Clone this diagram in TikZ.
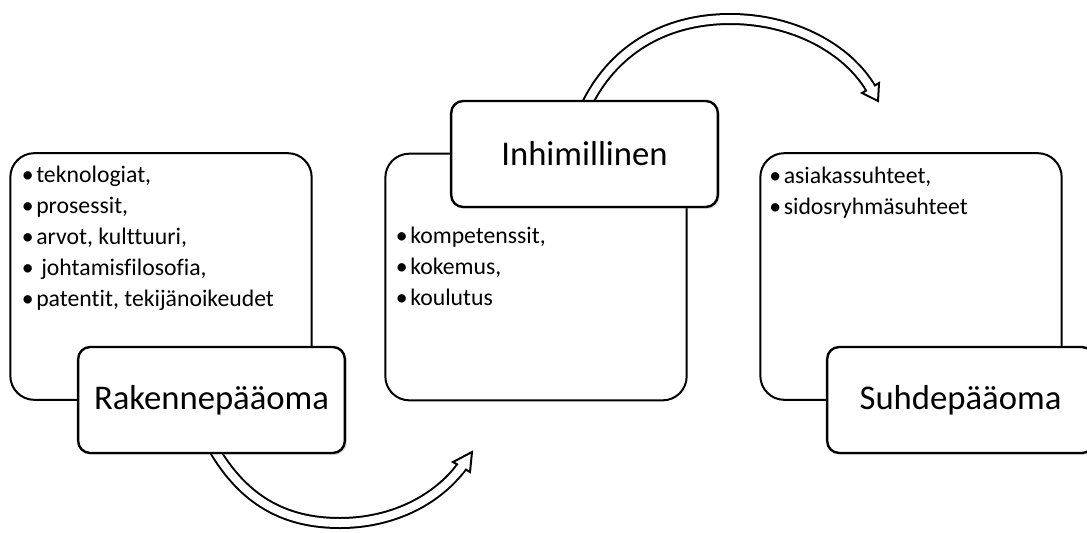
\documentclass[tikz,border=0pt]{standalone}
\usepackage{fontspec}
\setmainfont{Carlito}[Ligatures={NoCommon,NoContextual}]
\usetikzlibrary{shadows}
\pgfdeclarelayer{bg}
\pgfsetlayers{bg,main}
\newcommand\blt{\makebox[9pt]{•}\hspace{1.9pt}}
\begin{document}
\begin{tikzpicture}[x=0.75pt,y=-0.75pt,
  bigbox/.style={draw=black, line width=1.5pt, rounded corners=18pt, fill=white, inner sep=0pt,
    minimum width=226pt, minimum height=185pt},
  titlebox/.style={draw=black, line width=1.8pt, rounded corners=9pt, fill=white, inner sep=0pt,
    minimum width=200pt, minimum height=79.5pt, font=\fontsize{26}{30}\selectfont,
    drop shadow={opacity=0.25, shadow xshift=1.5pt, shadow yshift=-1.5pt}},
  item/.style={anchor=base west, inner sep=0pt, font=\fontsize{17.8}{23}\selectfont},
  flow/.style={draw=black, line width=1.5pt, double=white, double distance=6pt},
  head/.style={draw=black, fill=white, line width=1.5pt, line join=miter},
  patch/.style={draw=white, line width=6pt}
]
\useasboundingbox (0,0) rectangle (1087,532);

% title boxes
\node[titlebox] (r1) at (211.5,400) {Rakennepääoma};
\node[titlebox] (i1) at (584.5,154) {Inhimillinen};
\node[titlebox] (s1) at (960.5,400) {Suhdepääoma};

\coordinate (h1) at (461.5,467);
\coordinate (h2) at (870.5,88);

\begin{pgfonlayer}{bg}
  \node[bigbox] (b1) at (161,276.5) {};
  \node[bigbox] (b2) at (536,277) {};
  \node[bigbox] (b3) at (911,276.5) {};

  % bottom arrow
  \draw[flow] ([yshift=7pt]r1.south) .. controls (245,505) and (290,523) .. (340,523)
     .. controls (390,523) and (435,502) .. (h1);
  \draw[head] (472,452) -- (453,462) -- (470,472) -- cycle;
  \draw[patch] (459.1,470.2) -- (463.3,464.6);

  % top arrow
  \draw[flow] ([yshift=-7pt]i1.north) .. controls (611.5,50) and (665,19) .. (730,19)
     .. controls (795,19) and (848,50) .. (h2);
  \draw[head] (878,101) -- (862,93) -- (879,83) -- cycle;
  \draw[patch] (868.5,84.5) -- (872,90.6);
\end{pgfonlayer}

% lists
\node[item] (t1) at (21.5,182) {\blt teknologiat,};
\node[item] (t2) at (21.5,213) {\blt prosessit,};
\node[item] (t3) at (21.5,244) {\blt arvot, kulttuuri,};
\node[item] (t4) at (21.5,275) {\blt\hspace{3.75pt}johtamisfilosofia,};
\node[item] (t5) at (21.5,306) {\blt patentit, tekijänoikeudet};

\node[item] (m1) at (395.5,243) {\blt kompetenssit,};
\node[item] (m2) at (395.5,274) {\blt kokemus,};
\node[item] (m3) at (395.5,305) {\blt koulutus};

\node[item] (u1) at (769,183) {\blt asiakassuhteet,};
\node[item] (u2) at (769,214) {\blt sidosryhmäsuhteet};
\end{tikzpicture}
\end{document}
